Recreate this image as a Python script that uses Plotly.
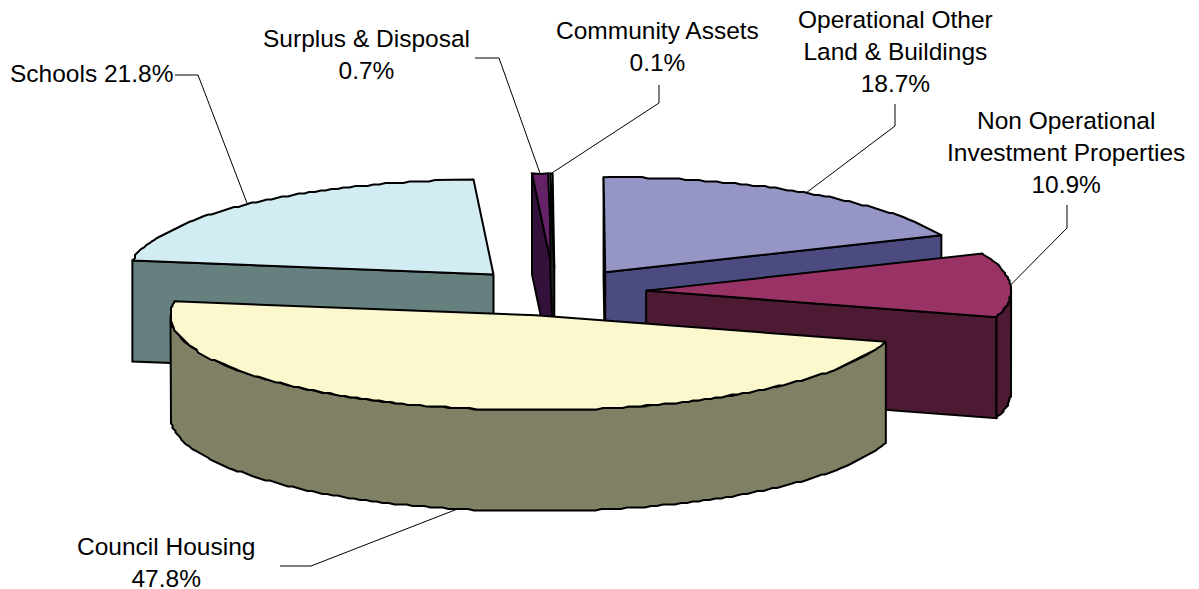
import math
import plotly.graph_objects as go

# Data
categories = ["Council Housing", "Schools", "Surplus & Disposal", "Community Assets",
              "Operational Other<br>Land & Buildings", "Non Operational<br>Investment Properties"]
values = [47.8, 21.8, 0.7, 0.1, 18.7, 10.9]
label_text = ["Council Housing<br>47.8%", "Schools 21.8%", "Surplus & Disposal<br>0.7%",
              "Community Assets<br>0.1%", "Operational Other<br>Land & Buildings<br>18.7%",
              "Non Operational<br>Investment Properties<br>10.9%"]
top_colors = ["#FAF8CC", "#D2ECF3", "#662266", "#FFFFFF", "#9595C6", "#993366"]
side_colors = ["#808064", "#668080", "#33113A", "#222222", "#4B4B80", "#4D1A33"]

# Pie projection (pixel-scaled axes)
CX, CY = 555, 292
RX, RY = 365, 95
DEPTH = 101
EXPLODE = 0.25
START = 106.3
GRID = 1.5
draw_order = [1, 2, 3, 4, 5, 0]
# label anchors and leader elbows
label_pos = [(166, 562), (91, 73), (366, 54), (657, 46), (895, 51), (1066, 152)]
leader_ends = [[(280, 566), (311, 566)], [(175, 75), (198, 75)], [(475, 58), (499, 58)],
               [(659, 85), (659, 103)], [(895, 104), (895, 126)], [(1067, 205), (1067, 228)]]

fig = go.Figure()
LINE = dict(color="#000000", width=2)


def poly(xs, ys, fill):
    fig.add_trace(go.Scatter(x=xs, y=ys, mode="lines", fill="toself", fillcolor=fill,
                             line=LINE, hoverinfo="skip", showlegend=False))


def rim(c, t):
    return c[0] + RX * math.sin(math.radians(t)), c[1] - RY * math.cos(math.radians(t))


def arc(c, t0, t1):
    n = max(2, int((t1 - t0) / 1.0))
    pts = [rim(c, t0 + (t1 - t0) * i / n) for i in range(n + 1)]
    out = []
    for i, (x, y) in enumerate(pts):
        if 0 < i < n:
            x, y = round(x / GRID) * GRID, round(y / GRID) * GRID
        out.append((x, y))
    return out


angles = []
t = START
for v in values:
    t0 = t % 360
    angles.append((t0, t0 + v * 3.6))
    t += v * 3.6

centers, mids = [], []
for t0, t1 in angles:
    m = math.radians((t0 + t1) / 2)
    centers.append((CX + EXPLODE * RX * math.sin(m), CY - EXPLODE * RY * math.cos(m)))
    mids.append((t0 + t1) / 2)

for i in draw_order:
    c = centers[i]
    t0, t1 = angles[i]
    # cut faces towards viewer
    for ang, sign in ((t0, -90), (t1, 90)):
        if math.cos(math.radians(ang + sign)) < 0:
            r = rim(c, ang)
            poly([c[0], r[0], r[0], c[0], c[0]],
                 [c[1], r[1], r[1] + DEPTH, c[1] + DEPTH, c[1]], side_colors[i])
    # outer wall, front half of the ellipse only
    lo, hi = max(t0, 90), min(t1, 270)
    if lo < hi:
        a = arc(c, lo, hi)
        xs = [p[0] for p in a] + [p[0] for p in reversed(a)] + [a[0][0]]
        ys = [p[1] for p in a] + [p[1] + DEPTH for p in reversed(a)] + [a[0][1]]
        poly(xs, ys, side_colors[i])
    # top
    a = arc(c, t0, t1)
    poly([c[0]] + [p[0] for p in a] + [c[0]], [c[1]] + [p[1] for p in a] + [c[1]], top_colors[i])

# leader lines: from label elbow to the slice's rim at its mid angle
for i, pts in enumerate(leader_ends):
    r = rim(centers[i], mids[i])
    if 90 < mids[i] % 360 < 270:
        r = (r[0], r[1] + DEPTH)
    fig.add_trace(go.Scatter(x=[p[0] for p in pts] + [r[0]], y=[p[1] for p in pts] + [r[1]],
                             mode="lines", line=dict(color="#000000", width=1),
                             hoverinfo="skip", showlegend=False))

for (x, y), txt in zip(label_pos, label_text):
    fig.add_annotation(x=x, y=y, text=txt, showarrow=False, xanchor="center", yanchor="middle",
                       align="center", font=dict(family="Liberation Sans", size=24.5, color="#000000"))

fig.update_layout(
    width=1199, height=589, autosize=False,
    margin=dict(l=0, r=0, t=0, b=0),
    paper_bgcolor="#FFFFFF", plot_bgcolor="#FFFFFF",
    xaxis=dict(range=[0, 1199], visible=False, fixedrange=True),
    yaxis=dict(range=[589, 0], visible=False, fixedrange=True),
)
fig.write_html("out.html", post_script="document.body.style.margin='0';",
               config={"displayModeBar": False})
